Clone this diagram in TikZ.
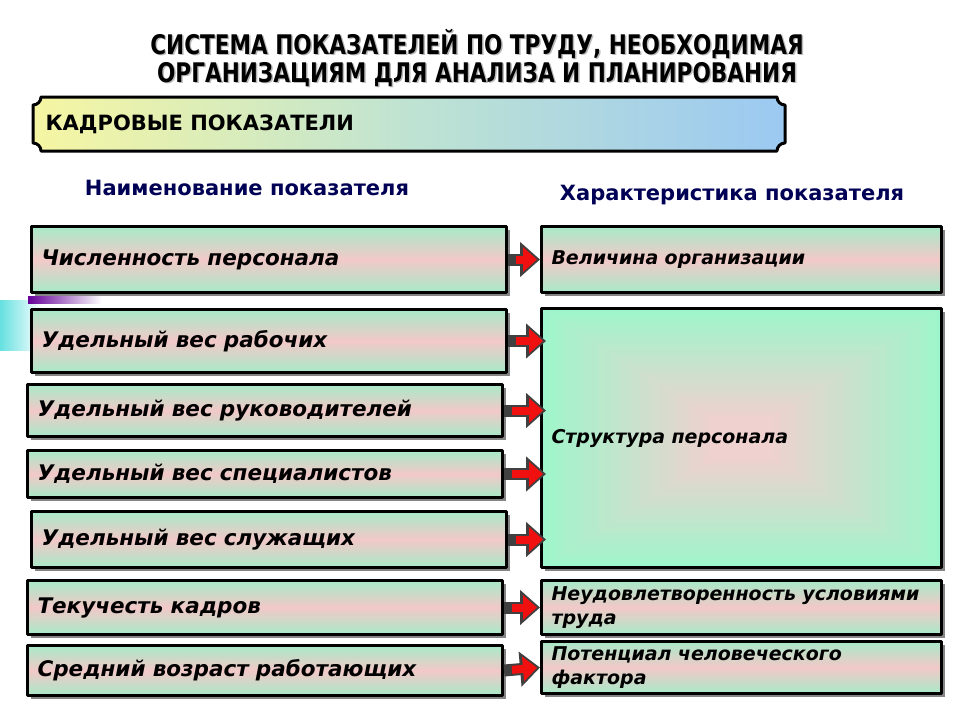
\documentclass[tikz,border=0pt]{standalone}
\usepackage{fontspec}
\setmainfont{DejaVu Sans}
\newfontfamily\titlefont[FakeStretch=0.8]{DejaVu Sans}
\usetikzlibrary{arrows.meta,shadows}
\definecolor{mintc}{HTML}{A8EAC8}
\definecolor{pinkc}{HTML}{F2C8C8}
\definecolor{mintb}{HTML}{9FF5CB}
\definecolor{pinkb}{HTML}{F2CFCF}
\definecolor{navyc}{HTML}{000055}
\definecolor{bannl}{HTML}{F6F6A2}
\definecolor{bannm}{HTML}{BFE3D2}
\definecolor{bannr}{HTML}{9BC9F2}
\definecolor{arrred}{HTML}{F01010}
\definecolor{arrgray}{HTML}{404040}
\tikzset{
  ibox/.style={draw=black, line width=3pt, anchor=north west, inner xsep=10pt, inner ysep=0pt, align=left,
    drop shadow={shadow xshift=3pt, shadow yshift=-3pt, fill=black!60, opacity=0.8}},
  band/.style={top color=mintc, bottom color=mintc, middle color=pinkc},
  ltext/.style={ibox, text width=455pt, font=\fontsize{21.5}{24}\selectfont\bfseries\itshape},
  lbox/.style={ltext, band},
  rtext/.style={ibox, text width=380pt, font=\fontsize{19}{24}\selectfont\bfseries\itshape},
  rbox/.style={rtext, band},
  arrback/.style={arrgray, line width=12pt, -{Triangle[length=20pt,width=34pt]}},
  arrfront/.style={arrred, line width=8pt, shorten <=8pt, shorten >=3pt, -{Triangle[length=14pt,width=24pt]}},
  header/.style={text=navyc, font=\fontsize{21}{24}\selectfont\bfseries}
}
\begin{document}
\begin{tikzpicture}[x=1pt, y=-1pt, line join=round]
	\useasboundingbox (0,0) rectangle (960,720);
	% slide decoration
	\fill[left color=cyan!60!teal!60, right color=white] (0,300) rectangle (42,350);
	\fill[left color=violet!80!blue, right color=white] (28,296) rectangle (102,303);
	% title
	\node[text=gray!55, align=center, font=\titlefont\fontsize{27}{28}\selectfont\bfseries] (titleshadow) at (478.5,59.5) {СИСТЕМА ПОКАЗАТЕЛЕЙ ПО ТРУДУ, НЕОБХОДИМАЯ\\ОРГАНИЗАЦИЯМ ДЛЯ АНАЛИЗА И ПЛАНИРОВАНИЯ};
	\node[align=center, font=\titlefont\fontsize{27}{28}\selectfont\bfseries] (title) at (477,58) {СИСТЕМА ПОКАЗАТЕЛЕЙ ПО ТРУДУ, НЕОБХОДИМАЯ\\ОРГАНИЗАЦИЯМ ДЛЯ АНАЛИЗА И ПЛАНИРОВАНИЯ};
	% banner
	\draw[line width=3pt, left color=bannl, right color=bannr, middle color=bannm] (41,97) -- (777,97) arc[start angle=180, end angle=90, radius=8] -- (785,143) arc[start angle=270, end angle=180, radius=8] -- (41,151) arc[start angle=0, end angle=-90, radius=8] -- (33,105) arc[start angle=90, end angle=0, radius=8] -- cycle;
	\node[anchor=west, font=\fontsize{21}{24}\selectfont\bfseries] (banner) at (42,124) {КАДРОВЫЕ ПОКАЗАТЕЛИ};
	% column headers
	\node[header] (hleft) at (247,188) {Наименование показателя};
	\node[header] (hright) at (732,195) {Характеристика показателя};
	% left column
	\node[lbox, minimum height=66pt] (l1) at (30,225) {Численность персонала};
	\node[lbox, minimum height=63pt] (l2) at (30,308) {Удельный вес рабочих};
	\node[lbox, minimum height=52pt] (l3) at (26,383) {Удельный вес руководителей};
	\node[lbox, minimum height=47pt] (l4) at (26,449) {Удельный вес специалистов};
	\node[lbox, minimum height=56pt] (l5) at (30,510) {Удельный вес служащих};
	\node[lbox, minimum height=54pt] (l6) at (26,579) {Текучесть кадров};
	\node[lbox, minimum height=50pt] (l7) at (26,644) {Средний возраст работающих};
	% right column
	\node[rbox, minimum height=66pt] (r1) at (540,225) {Величина организации};
	\node[rtext, fill=mintb, minimum height=259pt, path picture={
		\foreach \i in {1,...,24}{
			\pgfmathtruncatemacro\pc{\i*4}
			\fill[pinkb!\pc!mintb] ([shift={(\i*7,\i*4.5)}]path picture bounding box.north west) rectangle ([shift={(-\i*7,-\i*4.5)}]path picture bounding box.south east);
		}}] (r2) at (540,307) {Структура персонала};
	\node[rbox, minimum height=54pt] (r3) at (540,579) {Неудовлетворенность условиями\\труда};
	\node[rbox, minimum height=52pt] (r4) at (540,640) {Потенциал человеческого\\фактора};
	% arrows
	\draw[arrback] (l1.east) -- (r1.west);
	\draw[arrfront] (l1.east) -- (r1.west);
	\foreach \n in {l2,l3,l4,l5}{
		\draw[arrback] (\n.east) -- ([xshift=6pt]\n.east -| r2.west);
		\draw[arrfront] (\n.east) -- ([xshift=6pt]\n.east -| r2.west);
	}
	\draw[arrback] (l6.east) -- (r3.west);
	\draw[arrfront] (l6.east) -- (r3.west);
	\draw[arrback] (l7.east) -- (r4.west);
	\draw[arrfront] (l7.east) -- (r4.west);
\end{tikzpicture}
\end{document}
